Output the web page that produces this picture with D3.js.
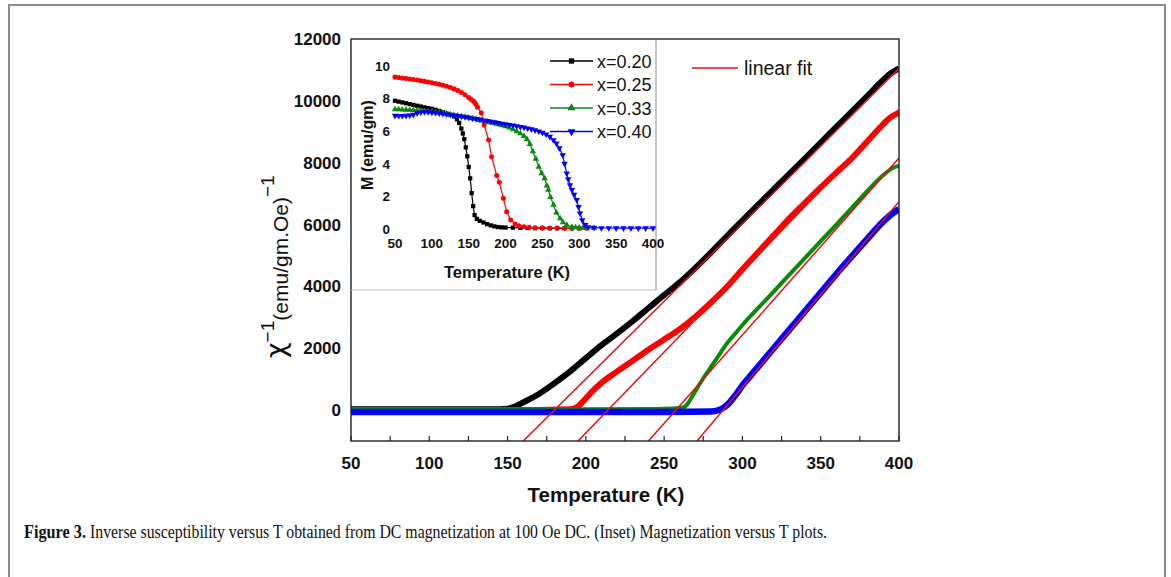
<!DOCTYPE html>
<html><head><meta charset="utf-8">
<script src="https://cdn.jsdelivr.net/npm/d3@7"></script>
<style>body{margin:0;background:#fff}svg{display:block}</style>
</head><body>
<svg id="c" width="1171" height="577"></svg>
<script>
// ---------- main chart data: inverse susceptibility ----------
const mainXTicks = [50,100,150,200,250,300,350,400];
const mainYTicks = [0,2000,4000,6000,8000,10000,12000];
const seriesNames = ["x=0.20","x=0.25","x=0.33","x=0.40"];
const seriesColors = ["#000000","#ff0000","#0a8a0a","#0000ff"];

const invT_020 = [50,100,145,150,155,160,170,180,190,200,210,220,230,240,250,260,270,280,290,300,310,320,330,340,350,360,370,380,390,395,400];
const invV_020 = [30,30,30,45,120,250,520,870,1250,1680,2100,2480,2880,3300,3720,4130,4600,5100,5620,6130,6640,7140,7640,8140,8650,9160,9660,10170,10680,10900,11050];
const invT_025 = [50,100,150,190,195,200,205,210,220,230,240,250,260,270,280,290,300,310,320,330,340,350,360,370,380,390,395,400];
const invV_025 = [0,0,0,30,120,380,650,880,1250,1600,1950,2280,2620,3020,3480,3980,4550,5100,5650,6200,6700,7200,7680,8150,8700,9250,9480,9620];
const invT_033 = [50,100,150,200,250,262,265,268,271,274,278,282,286,290,295,300,310,320,330,340,350,360,370,380,390,395,400];
const invV_033 = [30,30,30,30,40,80,200,450,700,950,1250,1550,1850,2150,2450,2750,3300,3830,4380,4920,5460,6000,6550,7100,7600,7800,7900];
const invT_040 = [50,100,150,200,250,280,285,288,291,294,297,300,305,310,320,330,340,350,360,370,380,390,395,400];
const invV_040 = [-60,-60,-60,-60,-60,-50,0,80,200,380,580,800,1100,1400,2000,2600,3200,3800,4400,4980,5550,6100,6330,6500];

// linear fits: start at the bottom of the axis (-1000) and value at 400 K
const fitStartT = [160,195,240,271];
const fitStartV = [-1000,-1000,-1000,-1000];
const fitEndT = [400,400,400,400];
const fitEndV = [11050,9720,8150,6740];

// ---------- inset data: magnetization ----------
const insetXTicks = [50,100,150,200,250,300,350,400];
const insetYTicks = [0,2,4,6,8,10];
const mT_020 = [50,55,60,65,70,75,80,85,90,95,100,105,110,115,120,125,130,134,137,140,142,144,146,148,150,152,154,156,158,161,165,170,175,180,185,190,195,200,210,220,230,240,250,260,270,280,290,300];
const mM_020 = [7.85,7.8,7.75,7.7,7.65,7.6,7.55,7.5,7.45,7.4,7.36,7.3,7.23,7.15,7.07,7.0,6.9,6.72,6.5,6.15,5.85,5.5,5.0,4.45,3.8,3.1,2.2,1.4,0.85,0.62,0.5,0.4,0.3,0.22,0.16,0.12,0.1,0.09,0.08,0.07,0.06,0.05,0.05,0.04,0.04,0.04,0.04,0.04];
const mT_025 = [50,55,60,65,70,75,80,85,90,95,100,105,110,115,120,125,130,135,140,145,150,153,156,158,160,162,167,171,177,181,188,191.5,197,201.5,207,213,218,225,232,240,250,260,270,280,290,300,310];
const mM_025 = [9.3,9.27,9.24,9.21,9.18,9.15,9.12,9.08,9.04,9.0,8.96,8.91,8.86,8.8,8.74,8.67,8.58,8.48,8.36,8.22,8.05,7.95,7.85,7.75,7.62,7.45,7.12,6.37,5.45,4.43,3.27,2.86,1.88,1.06,0.55,0.3,0.2,0.14,0.1,0.08,0.07,0.06,0.06,0.05,0.05,0.05,0.05];
const mT_033 = [50,55,60,65,70,75,80,85,90,95,100,105,110,115,120,125,130,135,140,145,150,155,160,165,170,175,180,185,190,195,200,205,210,215,220,225,229,233,237,241,245,249,253,256,258,261,265,269,274,278,283,290,295,300,305,310,320];
const mM_033 = [7.33,7.32,7.31,7.3,7.29,7.28,7.26,7.24,7.22,7.2,7.18,7.15,7.12,7.09,7.06,7.02,6.98,6.94,6.9,6.86,6.82,6.77,6.72,6.67,6.62,6.57,6.52,6.47,6.41,6.35,6.28,6.2,6.1,5.98,5.85,5.68,5.5,5.2,4.75,4.3,3.8,3.41,3.1,2.65,2.39,1.95,1.47,1.0,0.65,0.4,0.25,0.12,0.1,0.08,0.07,0.07,0.06];
const mT_040 = [50,55,60,65,70,75,80,85,90,95,100,105,110,115,120,125,130,135,140,145,150,155,160,165,170,175,180,185,190,195,200,205,210,215,220,225,230,235,240,245,250,255,260,265,269,273,277.5,280,283,285,287.5,290,293,296.5,299,301,304,308,312,320,330,340,350,360,370,380,390,400];
const mM_040 = [6.94,6.93,6.93,6.94,6.96,7.0,7.1,7.15,7.17,7.16,7.14,7.11,7.08,7.05,7.02,6.99,6.96,6.93,6.9,6.86,6.82,6.78,6.74,6.7,6.66,6.62,6.58,6.54,6.5,6.46,6.42,6.38,6.34,6.3,6.26,6.22,6.17,6.11,6.05,5.98,5.9,5.8,5.65,5.45,5.25,4.95,4.53,4.0,3.41,3.05,2.69,2.4,2.1,1.78,1.35,0.96,0.55,0.25,0.12,0.08,0.06,0.06,0.05,0.05,0.05,0.05,0.05,0.05];

const captionBold = "Figure 3.";
const captionText = "Inverse susceptibility versus T obtained from DC magnetization at 100 Oe DC. (Inset) Magnetization versus T plots.";

// ---------- drawing ----------
const svg = d3.select("#c");
const SANS = "'Liberation Sans', Arial, sans-serif";
const SERIF = "'Liberation Serif','Times New Roman',serif";

// outer figure frame
svg.append("rect").attr("x",9).attr("y",5).attr("width",1156).attr("height",600)
  .attr("fill","none").attr("stroke","#8c8c8c").attr("stroke-width",2);

// main scales
const x = d3.scaleLinear().domain([50,400]).range([351,899]);
const y = d3.scaleLinear().domain([-1000,12000]).range([441,39]);

const mainT = [invT_020,invT_025,invT_033,invT_040];
const mainV = [invV_020,invV_025,invV_033,invV_040];
const mainW = [6,6,4,6.5];
const lineMain = d3.line().x(d=>x(d[0])).y(d=>y(d[1])).curve(d3.curveMonotoneX);
svg.append("clipPath").attr("id","mainclip").append("rect").attr("x",351).attr("y",39).attr("width",548).attr("height",402);
const gData = svg.append("g").attr("clip-path","url(#mainclip)");
mainT.forEach((ts,i)=>{
  const pts = ts.map((t,j)=>[t,mainV[i][j]]);
  gData.append("path").attr("d",lineMain(pts)).attr("fill","none")
    .attr("stroke",seriesColors[i]).attr("stroke-width",mainW[i]).attr("stroke-linejoin","round");
});
// fit lines
fitStartT.forEach((t0,i)=>{
  gData.append("line").attr("x1",x(t0)).attr("y1",y(fitStartV[i]))
    .attr("x2",x(fitEndT[i])).attr("y2",y(fitEndV[i]))
    .attr("stroke","#e81010").attr("stroke-width",1.5);
});

// frame
svg.append("rect").attr("x",351).attr("y",39).attr("width",548).attr("height",402)
  .attr("fill","none").attr("stroke","#222").attr("stroke-width",1.4);
// x ticks (inward) every 25
const xTickAll = d3.range(50,401,25);
svg.append("g").selectAll("line").data(xTickAll).join("line")
  .attr("x1",d=>x(d)).attr("x2",d=>x(d)).attr("y1",441).attr("y2",436)
  .attr("stroke","#222").attr("stroke-width",1.2);
// tick labels
svg.append("g").selectAll("text").data(mainXTicks).join("text")
  .attr("x",d=>x(d)).attr("y",469).attr("text-anchor","middle")
  .attr("font-family",SANS).attr("font-weight","bold").attr("font-size",17).attr("fill","#111")
  .text(d=>d);
svg.append("g").selectAll("text").data(mainYTicks).join("text")
  .attr("x",341).attr("y",d=>y(d)+6).attr("text-anchor","end")
  .attr("font-family",SANS).attr("font-weight","bold").attr("font-size",17).attr("fill","#111")
  .text(d=>d);
// axis titles
svg.append("text").attr("x",606).attr("y",502).attr("text-anchor","middle")
  .attr("font-family",SANS).attr("font-weight","bold").attr("font-size",20.5).attr("fill","#111")
  .text("Temperature (K)");
const yl = svg.append("text").attr("transform","translate(285,358) rotate(-90)")
  .attr("font-family",SANS).attr("fill","#111").attr("text-anchor","start");
yl.append("tspan").attr("font-size",27).attr("font-family","'DejaVu Sans', sans-serif").text("χ");
yl.append("tspan").attr("font-size",19).attr("dy",-11.5).text("−1");
yl.append("tspan").attr("font-size",21).attr("dy",14.5).text("(emu/gm.Oe)");
yl.append("tspan").attr("font-size",19).attr("dy",-14.5).text("−1");

// linear fit legend
svg.append("line").attr("x1",692).attr("x2",738).attr("y1",68).attr("y2",68)
  .attr("stroke","#e81010").attr("stroke-width",1.6);
svg.append("text").attr("x",744).attr("y",75).attr("font-family",SANS).attr("font-size",19.5)
  .attr("fill","#111").text("linear fit");

// ---------- inset ----------
svg.append("line").attr("x1",656).attr("x2",656).attr("y1",39).attr("y2",290).attr("stroke","#8a8a8a").attr("stroke-width",1);
svg.append("line").attr("x1",351).attr("x2",656).attr("y1",290).attr("y2",290).attr("stroke","#bbb").attr("stroke-width",1);

const ix = d3.scaleLinear().domain([50,400]).range([395,653]);
const iy = d3.scaleLinear().domain([0,10]).range([229,65.7]);
const insetT = [mT_020,mT_025,mT_033,mT_040];
const insetM = [mM_020,mM_025,mM_033,mM_040];
const symbols = [d3.symbolSquare,d3.symbolCircle,d3.symbolTriangle,d3.symbolTriangle];
const symRot = [0,0,0,180];
const symSize = [18,20,18,18];
const lineIn = d3.line().x(d=>ix(d[0])).y(d=>iy(d[1]));
insetT.forEach((ts,i)=>{
  const pts = ts.map((t,j)=>[t,insetM[i][j]]);
  const g = svg.append("g");
  g.append("path").attr("d",lineIn(pts)).attr("fill","none").attr("stroke",seriesColors[i]).attr("stroke-width",1.2);
  g.selectAll("path.m").data(pts).join("path").attr("class","m")
    .attr("d",d3.symbol().type(symbols[i]).size(symSize[i]))
    .attr("transform",d=>`translate(${ix(d[0])},${iy(d[1])}) rotate(${symRot[i]})`)
    .attr("fill",seriesColors[i]);
});
svg.append("g").selectAll("text").data(insetXTicks).join("text")
  .attr("x",d=>ix(d)).attr("y",248).attr("text-anchor","middle")
  .attr("font-family",SANS).attr("font-weight","bold").attr("font-size",13.5).attr("fill","#111").text(d=>d);
svg.append("g").selectAll("text").data(insetYTicks).join("text")
  .attr("x",390).attr("y",d=>iy(d)+5).attr("text-anchor","end")
  .attr("font-family",SANS).attr("font-weight","bold").attr("font-size",13.5).attr("fill","#111").text(d=>d);
svg.append("text").attr("x",507).attr("y",278).attr("text-anchor","middle")
  .attr("font-family",SANS).attr("font-weight","bold").attr("font-size",16.5).attr("fill","#111").text("Temperature (K)");
svg.append("text").attr("transform","translate(373,145) rotate(-90)").attr("text-anchor","middle")
  .attr("font-family",SANS).attr("font-weight","bold").attr("font-size",16).attr("fill","#111").text("M (emu/gm)");

// inset legend
const legY = [61,84.5,108,131.5];
seriesNames.forEach((n,i)=>{
  svg.append("line").attr("x1",550).attr("x2",593).attr("y1",legY[i]).attr("y2",legY[i])
    .attr("stroke",seriesColors[i]).attr("stroke-width",1.5);
  svg.append("path").attr("d",d3.symbol().type(symbols[i]).size(28))
    .attr("transform",`translate(571.5,${legY[i]}) rotate(${symRot[i]})`).attr("fill",seriesColors[i]);
  svg.append("text").attr("x",597).attr("y",legY[i]+6.5).attr("font-family",SANS).attr("font-size",18)
    .attr("fill","#111").text(n);
});

// caption (two separate texts so they never overlap)
svg.append("text").attr("x",24).attr("y",538)
  .attr("font-family",SERIF).attr("font-size",18).attr("font-weight","bold").attr("fill","#111")
  .attr("textLength",62).attr("lengthAdjust","spacingAndGlyphs").text(captionBold);
svg.append("text").attr("x",90).attr("y",538)
  .attr("font-family",SERIF).attr("font-size",18).attr("fill","#111")
  .attr("textLength",737).attr("lengthAdjust","spacingAndGlyphs").text(captionText);
</script>
</body></html>
